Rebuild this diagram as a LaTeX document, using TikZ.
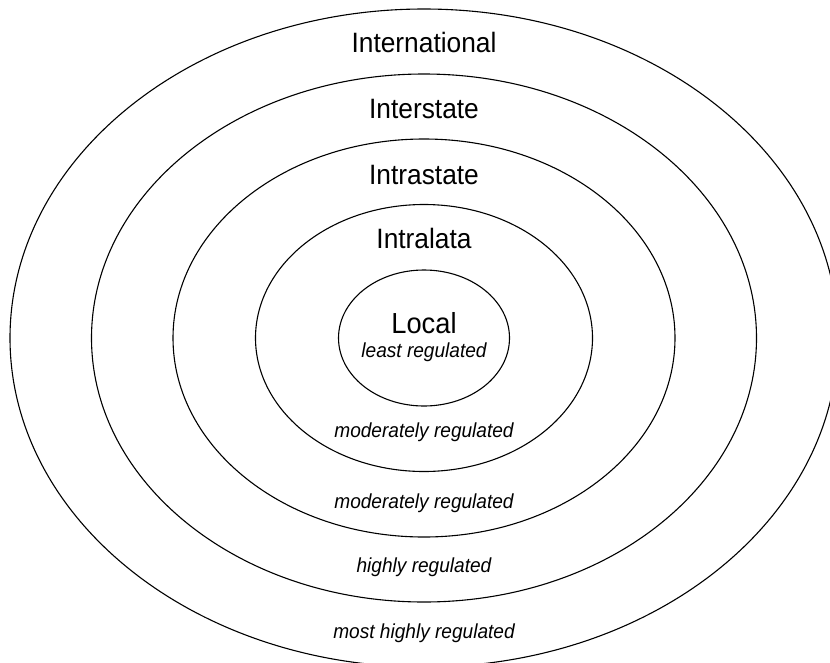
\documentclass[tikz,border=0pt]{standalone}
\usepackage{fontspec}
\setmainfont{Liberation Sans}[FakeStretch=0.94]
\usetikzlibrary{shapes.geometric}
\tikzset{
  ring/.style={draw=black, line width=1.1pt, ellipse, inner sep=0pt, outer sep=0pt},
  lvl/.style={anchor=base, inner sep=0pt, font=\fontsize{28}{30}\selectfont},
  reg/.style={anchor=base, inner sep=0pt, font=\fontsize{20.3}{22}\selectfont\itshape},
}
\begin{document}
\begin{tikzpicture}[x=1pt, y=-1pt]
\useasboundingbox (0,0) rectangle (830,662);
\clip (0,0) rectangle (830,662);
\node[ring, minimum width=828pt, minimum height=658pt] (intl) at (424,338) {};
\node[ring, minimum width=665pt, minimum height=528pt] (inter) at (424,338) {};
\node[ring, minimum width=502pt, minimum height=398pt] (intra) at (424,338) {};
\node[ring, minimum width=337pt, minimum height=267pt] (lata) at (424,338) {};
\node[ring, minimum width=171pt, minimum height=136pt] (local) at (424,338) {};

\node[lvl] (tintl) at (424,52.5) {International};
\node[lvl] (tinter) at (424,118.3) {Interstate};
\node[lvl] (tintra) at (424,184) {Intrastate};
\node[lvl] (tlata) at (424,248.3) {Intralata};
\node[lvl, font=\fontsize{29}{31}\selectfont] (tlocal) at (424,333.3) {Local};
\node[reg] (rlocal) at (424,357.3) {least regulated};
\node[reg] (rlata) at (424,437.5) {moderately regulated};
\node[reg] (rintra) at (424,508) {moderately regulated};
\node[reg] (rinter) at (424,572) {highly regulated};
\node[reg] (rintl) at (424,638) {most highly regulated};
\end{tikzpicture}
\end{document}
